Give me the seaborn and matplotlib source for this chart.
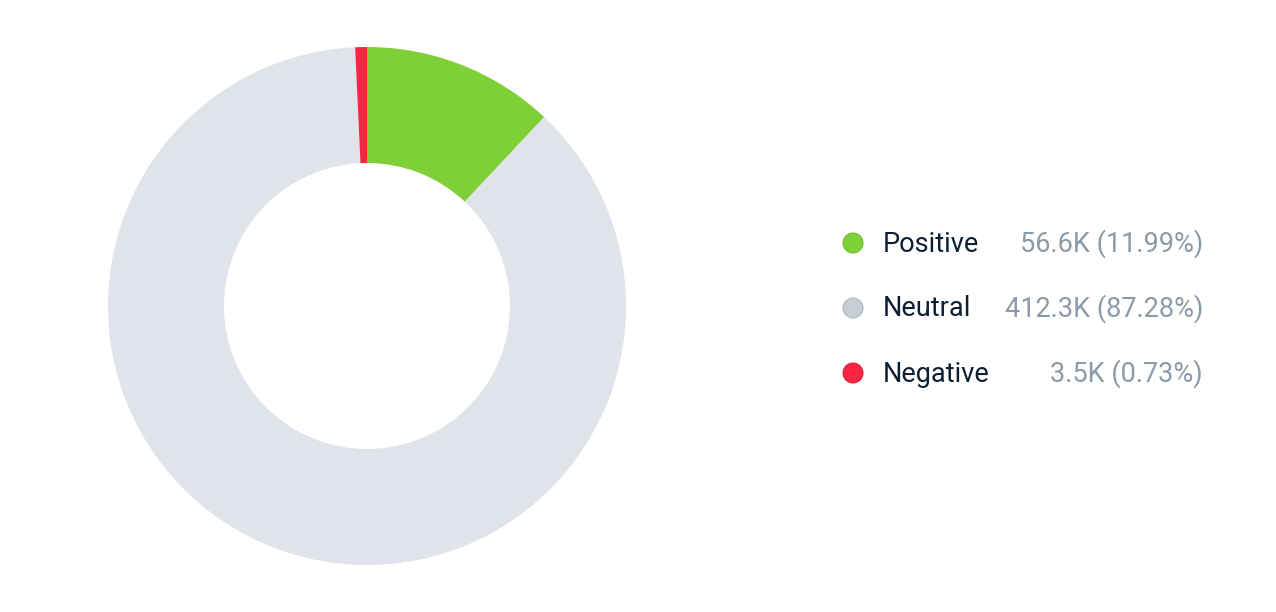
import matplotlib
matplotlib.use("Agg")
import matplotlib.pyplot as plt
import seaborn as sns
import pandas as pd

# data
labels = ["Positive", "Neutral", "Negative"]
counts = ["56.6K", "412.3K", "3.5K"]
shares = [11.99, 87.28, 0.73]
colors = ["#7fd037", "#e0e3ea", "#fa2545"]
marker_colors = ["#7fd037", "#c8ced6", "#fa2545"]
edge_colors = ["#72c02c", "#b3bac3", "#e82040"]

sns.set_theme(style="white")
plt.rcParams['font.family'] = ['Roboto', 'DejaVu Sans']

W, H = 1276, 612
fig = plt.figure(figsize=(W / 100, H / 100), dpi=100)

# donut
cx, cy, r = 367, 306, 259
ax = fig.add_axes([(cx - r) / W, (H - cy - r) / H, 2 * r / W, 2 * r / H])
ax.pie(shares, colors=colors, startangle=90, counterclock=False,
       wedgeprops=dict(width=116 / 259, linewidth=0))
ax.set_xlim(-1, 1)
ax.set_ylim(-1, 1)
ax.set_aspect('equal')
ax.axis('off')

# legend drawn in pixel coordinates
lax = fig.add_axes([0, 0, 1, 1], zorder=-1)
lax.set_xlim(0, W)
lax.set_ylim(H, 0)
lax.axis('off')

leg = pd.DataFrame({"label": labels, "row": range(len(labels))})
leg["y"] = 243 + leg["row"] * 65
leg["x"] = 853
sns.scatterplot(data=leg, x="x", y="y", hue="label", palette=marker_colors,
                s=200, edgecolor=edge_colors, linewidth=1, legend=False, ax=lax)

for i, row in leg.iterrows():
    lax.text(883, row["y"] + 1, row["label"], ha='left', va='center',
             fontsize=19.5, color="#0d1f33")
    lax.text(1203, row["y"] + 1, f"{counts[i]} ({shares[i]:.2f}%)", ha='right',
             va='center', fontsize=19.5, color="#8a9aa8")

fig.savefig("out.png", dpi=100)
